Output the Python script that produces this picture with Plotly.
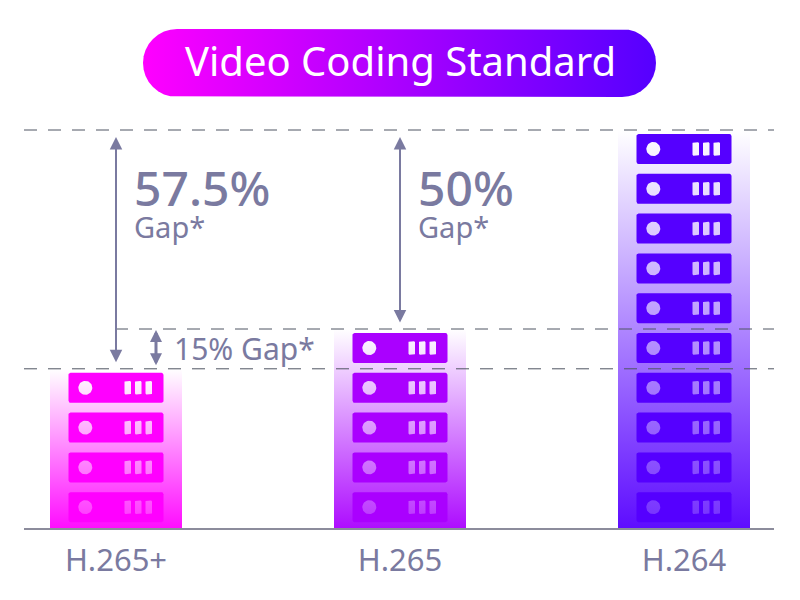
import numpy as np
import plotly.graph_objects as go

# chart values
codec_labels = ["H.265+", "H.265", "H.264"]
rack_counts = [4, 5, 10]
bar_colors = ["#ff00ff", "#aa00ff", "#5500ff"]
title_text = "Video Coding Standard"
gap_big_labels = ["57.5%", "50%"]
gap_small_label = "Gap*"
gap_mid_label = "15% Gap*"

TEXT_COLOR = "#7a7aa0"
DASH_COLOR = "#4f5462"
FONT = "Noto Sans"

# the page keeps an 8px body margin, so the figure fills 8..800 and 8..600
FIG_W, FIG_H = 792, 592
OFFSET = 8
PX_PER_CAT = 284.0
PX_PER_RACK = 39.8
BAR_W = 132 / PX_PER_CAT


def tint(color, amount):
  # mix a hex colour with white
  rgb = [int(color[j:j + 2], 16) for j in (1, 3, 5)]
  return "rgb({},{},{})".format(*[round(v + (255 - v) * amount) for v in rgb])


def rounded_rect(x0, x1, y0, y1, r):
  # closed polygon in pixel units, corners with a small arc
  xs, ys = [], []
  corners = [(x1 - r, y1 - r, 0), (x0 + r, y1 - r, 90), (x0 + r, y0 + r, 180), (x1 - r, y0 + r, 270)]
  for cx, cy, a in corners:
    t = np.radians(np.linspace(a, a + 90, 9))
    xs += list(cx + r * np.cos(t))
    ys += list(cy + r * np.sin(t))
  return xs + xs[:1], ys + ys[:1]


def rack_parts(center, level):
  # one rack sits in the unit from level-1 to level, offsets in px from rack centre
  to_x = lambda px: center + px / PX_PER_CAT
  to_y = lambda px: level - 1 + px / PX_PER_RACK
  bx, by = rounded_rect(-47.5, 47.5, 5.8, 35.8, 2)
  body = ([to_x(v) for v in bx], [to_y(v) for v in by])

  hx, hy = [], []
  t = np.radians(np.linspace(0, 360, 41))
  hx += [to_x(-30.7 + 7 * np.cos(a)) for a in t] + [None]
  hy += [to_y(20.8 + 7 * np.sin(a)) for a in t] + [None]
  for left in [8.5, 19, 29.5]:
    sx, sy = rounded_rect(left, left + 6.5, 14, 27.6, 1)
    hx += [to_x(v) for v in sx] + [None]
    hy += [to_y(v) for v in sy] + [None]
  return body, (hx, hy)


fig = go.Figure()

for i, (count, color) in enumerate(zip(rack_counts, bar_colors)):
  bar_grad = dict(type="vertical", colorscale=[[0, "#ffffff"], [1, tint(color, 0.05)]], start=count, stop=0)
  icon_grad = dict(type="vertical", colorscale=[[0, "#ffffff"], [1, tint(color, 0.18)]], start=count, stop=0)
  fig.add_trace(go.Scatter(
      x=[i - BAR_W / 2, i + BAR_W / 2, i + BAR_W / 2, i - BAR_W / 2, i - BAR_W / 2],
      y=[0, 0, count, count, 0],
      mode="lines", line_width=0, fill="toself", fillgradient=bar_grad,
      hoverinfo="skip", showlegend=False,
  ))
  for level in range(1, count + 1):
    body, icons = rack_parts(i, level)
    fig.add_trace(go.Scatter(
        x=body[0], y=body[1], mode="lines", line_width=0,
        fill="toself", fillcolor=color, hoverinfo="skip", showlegend=False,
    ))
    fig.add_trace(go.Scatter(
        x=icons[0], y=icons[1], mode="lines", line_width=0,
        fill="toself", fillgradient=icon_grad, hoverinfo="skip", showlegend=False,
    ))

# dashed level lines
x_left, x_right = -92 / PX_PER_CAT, 2 + 90 / PX_PER_CAT
for level, start in [(rack_counts[2], x_left), (rack_counts[1], -1 / PX_PER_CAT), (rack_counts[0], x_left)]:
  fig.add_trace(go.Scatter(
      x=[start, x_right], y=[level, level], mode="lines",
      line=dict(color=DASH_COLOR, width=1, dash="13px,11px"),
      hoverinfo="skip", showlegend=False,
  ))

# title pill
px, py = rounded_rect(143, 656, 29, 97, 34)
fig.add_trace(go.Scatter(
    x=px, y=py, xaxis="x2", yaxis="y2", mode="lines", line_width=0, fill="toself",
    fillgradient=dict(type="horizontal", colorscale=[[0, bar_colors[0]], [1, bar_colors[2]]]),
    hoverinfo="skip", showlegend=False,
))


def arrow(x, y_from, y_to, width, size, top_gap, bottom_gap):
  fig.add_annotation(
      x=x, y=y_to, ax=x, ay=y_from, xref="x", yref="y", axref="x", ayref="y", text="",
      showarrow=True, arrowside="end+start", arrowhead=2, arrowsize=size,
      arrowwidth=width, arrowcolor=TEXT_COLOR, standoff=top_gap, startstandoff=bottom_gap,
  )


def label(text, x, y, size, color=TEXT_COLOR, weight=400, anchor="left"):
  fig.add_annotation(
      x=x, y=y, xref="x2", yref="y2", text=text, showarrow=False, xanchor=anchor, yanchor="middle",
      font=dict(family=FONT, size=size, color=color, weight=weight),
  )


arrow(0, rack_counts[0], rack_counts[2], 2, 1.25, 7, 5)
arrow(1, rack_counts[1], rack_counts[2], 2, 1.25, 7, 5)
arrow(40 / PX_PER_CAT, rack_counts[0], rack_counts[1], 3, 0.8, 1, 2)

label(title_text, 400, 60, 40, color="#ffffff", anchor="center")
label(gap_big_labels[0], 132, 187, 48, weight=500)
label(gap_small_label, 132, 226, 29)
label(gap_big_labels[1], 416, 187, 48, weight=500)
label(gap_small_label, 416, 226, 29)
label(gap_mid_label, 172, 348, 30)

fig.update_layout(
    width=FIG_W, height=FIG_H, autosize=False,
    margin=dict(l=0, r=0, t=0, b=0),
    paper_bgcolor="white", plot_bgcolor="rgba(0,0,0,0)",
    xaxis=dict(
        domain=[(24 - OFFSET) / FIG_W, (774 - OFFSET) / FIG_W], range=[x_left, x_right],
        showgrid=False, zeroline=False,
        tickvals=[0, 1, 2], ticktext=codec_labels, ticks="", ticklabelstandoff=4,
        tickfont=dict(family=FONT, size=31, color=TEXT_COLOR),
        showline=True, linecolor="#8c8c9c", linewidth=2,
    ),
    yaxis=dict(
        domain=[72 / FIG_H, 1], range=[0, (528 - OFFSET) / PX_PER_RACK], visible=False,
    ),
    xaxis2=dict(domain=[0, 1], range=[OFFSET, 800], visible=False, anchor="y2"),
    yaxis2=dict(domain=[0, 1], range=[600, OFFSET], visible=False, anchor="x2"),
)

fig.write_html("out.html")
